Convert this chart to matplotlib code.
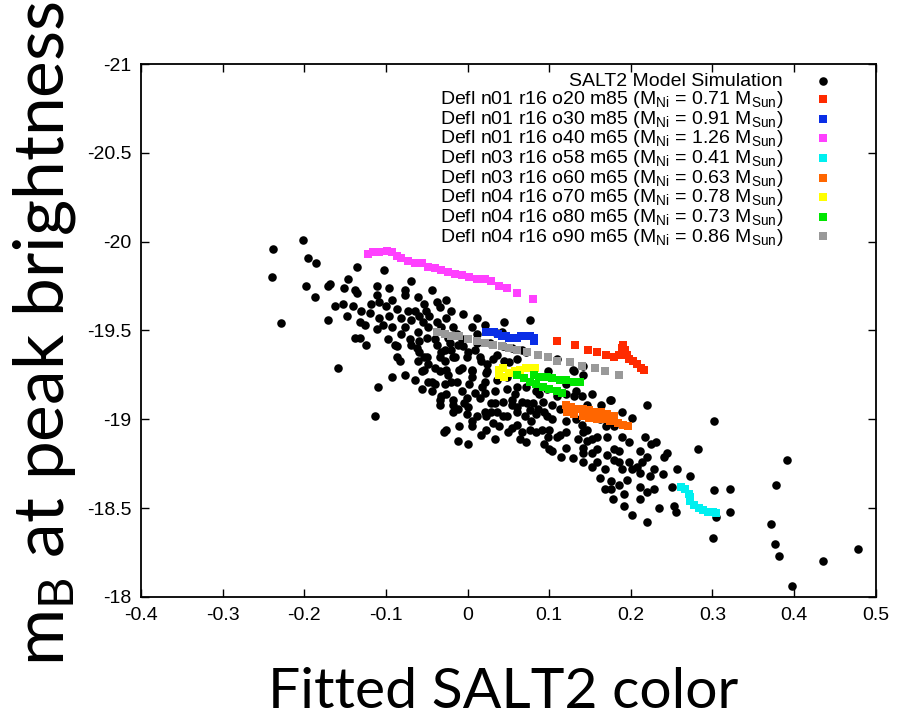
import matplotlib
matplotlib.use('Agg')
import matplotlib.pyplot as plt

plt.rcParams['font.family'] = ['Liberation Sans', 'DejaVu Sans']
plt.rcParams['mathtext.default'] = 'regular'

# SALT2 model simulation (black dots), colour vs peak magnitude
salt2_x = [-0.239, -0.202, -0.196, -0.186, -0.240, -0.198, -0.187, -0.229, -0.171, -0.168,
           -0.152, -0.147, -0.136, -0.138, -0.136, -0.163, -0.153, -0.141, -0.148, -0.171,
           -0.130, -0.132, -0.138, -0.132, -0.125, -0.120, -0.102, -0.111, -0.096, -0.077,
           -0.077, -0.069, -0.111, -0.109, -0.100, -0.093, -0.086, -0.096, -0.104, -0.111,
           -0.108, -0.092, -0.098, -0.081, -0.077, -0.081, -0.071, -0.086, -0.087, -0.083,
           -0.073, -0.061, -0.054, -0.064, -0.069, -0.059, -0.051, -0.047, -0.038, -0.027,
           -0.034, -0.055, -0.049, -0.061, -0.069, -0.059, -0.050, -0.062, -0.059, -0.053,
           -0.061, -0.049, -0.056, -0.065, -0.049, -0.092, -0.159, -0.040, -0.032, -0.018,
           -0.006, 0.006, -0.024, -0.032, -0.020, -0.012, -0.028, -0.016, -0.007, -0.024,
           -0.034, -0.040, -0.020, 0.000, 0.005, 0.017, 0.024, -0.110, -0.114, -0.029,
           0.000, 0.100, 0.115, 0.129, 0.141, -0.018, -0.034, -0.032, -0.004, 0.000,
           0.011, 0.021, 0.029, 0.031, 0.033, 0.043, -0.007, 0.009, 0.021, -0.056,
           0.054, 0.061, 0.073, 0.070, 0.078, 0.086, 0.094, 0.091, 0.084, 0.072,
           0.098, 0.109, 0.103, 0.121, 0.133, 0.140, 0.135, 0.146, 0.153, 0.141,
           0.153, 0.140, 0.131, 0.141, 0.164, 0.176, 0.189, 0.202, 0.180, 0.170,
           0.220, 0.302, 0.171, 0.189, 0.186, 0.198, 0.211, 0.217, 0.225, 0.231,
           0.180, 0.171, 0.180, 0.168, 0.186, 0.198, 0.207, 0.214, 0.220, 0.211,
           0.223, 0.176, 0.186, 0.195, 0.168, 0.176, 0.178, 0.192, 0.211, 0.220,
           0.192, 0.201, 0.220, 0.235, 0.241, 0.244, 0.257, 0.272, 0.250, 0.253,
           0.256, 0.282, 0.302, 0.321, 0.322, 0.305, 0.301, 0.391, 0.378, 0.372,
           0.377, 0.382, 0.398, 0.435, 0.478, 0.189, 0.076, -0.038, -0.022, -0.006,
           0.011, 0.027, 0.043, 0.055, 0.067, -0.050, -0.034, -0.018, -0.001, 0.015,
           0.031, -0.053, -0.040, -0.026, -0.010, 0.006, 0.023, 0.036, 0.048, -0.043,
           -0.028, -0.013, 0.002, 0.018, 0.033, 0.048, 0.060, 0.072, 0.084, 0.097,
           0.109, 0.121, 0.133, 0.153, 0.174, -0.034, -0.018, -0.001, 0.015, 0.029,
           0.043, 0.055, 0.067, 0.080, 0.092, 0.104, 0.113, -0.018, -0.001, 0.023,
           0.036, 0.048, 0.060, 0.084, 0.097, 0.104, -0.026, -0.010, 0.006, 0.023,
           0.039, 0.055, 0.067, 0.100, 0.113, 0.146, 0.158, 0.162, 0.178, 0.141,
           0.129, 0.121, 0.146, 0.121, 0.005, 0.024, 0.021, 0.033, 0.042, 0.109,
           0.131, 0.141, 0.098, 0.061, 0.051, 0.072, -0.038, -0.026, -0.013, 0.012,
           0.021, -0.028, -0.007, 0.009, 0.036, 0.045, -0.044, -0.026, -0.012, 0.005,
           0.017, 0.033, 0.049, 0.060, 0.076, -0.012, 0.064, 0.094, 0.121, 0.158,
           0.159, 0.162, 0.202, 0.211, 0.229, 0.229, 0.239, -0.089, -0.077, -0.126,
           -0.118, -0.044, -0.020, 0.012, 0.045, 0.058, 0.076, 0.088, 0.121, 0.141,
           0.152]
salt2_y = [-19.96, -20.01, -19.91, -19.88, -19.80, -19.75, -19.69, -19.54, -19.75, -19.76,
           -19.74, -19.79, -19.86, -19.73, -19.71, -19.64, -19.65, -19.64, -19.58, -19.56,
           -19.61, -19.55, -19.46, -19.46, -19.42, -19.60, -19.84, -19.75, -19.74, -19.73,
           -19.70, -19.78, -19.70, -19.66, -19.64, -19.67, -19.62, -19.58, -19.53, -19.51,
           -19.57, -19.52, -19.45, -19.57, -19.52, -19.48, -19.45, -19.41, -19.35, -19.33,
           -19.61, -19.69, -19.65, -19.61, -19.56, -19.58, -19.61, -19.58, -19.66, -19.67,
           -19.63, -19.55, -19.52, -19.49, -19.42, -19.44, -19.46, -19.40, -19.38, -19.35,
           -19.33, -19.31, -19.27, -19.22, -19.21, -19.24, -19.29, -19.45, -19.52, -19.52,
           -19.59, -19.52, -19.46, -19.38, -19.39, -19.42, -19.33, -19.35, -19.29, -19.25,
           -19.27, -19.20, -19.21, -19.38, -19.27, -19.33, -19.27, -19.18, -19.02, -18.93,
           -18.86, -18.83, -18.79, -18.78, -18.81, -19.08, -19.08, -19.13, -19.09, -19.07,
           -19.02, -19.04, -19.04, -18.98, -19.09, -19.02, -19.16, -19.15, -19.15, -19.17,
           -19.11, -19.07, -19.09, -19.02, -18.99, -19.06, -19.04, -18.94, -18.93, -18.87,
           -18.90, -18.90, -18.82, -18.99, -19.00, -18.97, -18.89, -18.88, -18.89, -18.84,
           -18.81, -19.13, -19.13, -18.93, -19.08, -19.11, -19.04, -19.01, -18.96, -18.96,
           -19.08, -18.99, -18.90, -18.90, -18.82, -18.87, -18.82, -18.90, -18.86, -18.87,
           -18.83, -18.80, -18.77, -18.72, -18.76, -18.76, -18.73, -18.76, -18.79, -18.70,
           -18.68, -18.65, -18.63, -18.66, -18.61, -18.61, -18.55, -18.58, -18.62, -18.59,
           -18.51, -18.46, -18.42, -18.50, -18.79, -18.81, -18.72, -18.68, -18.62, -18.51,
           -18.48, -18.83, -18.60, -18.61, -18.48, -18.45, -18.33, -18.77, -18.63, -18.41,
           -18.30, -18.23, -18.06, -18.20, -18.27, -18.72, -19.56, -19.42, -19.43, -19.41,
           -19.43, -19.43, -19.41, -19.40, -19.39, -19.35, -19.35, -19.35, -19.35, -19.35,
           -19.34, -19.28, -19.29, -19.28, -19.28, -19.28, -19.26, -19.22, -19.24, -19.21,
           -19.20, -19.21, -19.20, -19.18, -19.16, -19.17, -19.18, -19.18, -19.16, -19.17,
           -19.13, -19.14, -19.16, -19.14, -19.11, -19.11, -19.11, -19.12, -19.12, -19.09,
           -19.10, -19.08, -19.10, -19.09, -19.10, -19.08, -19.06, -19.04, -19.03, -19.02,
           -19.04, -19.02, -19.04, -19.03, -19.02, -19.00, -18.94, -18.96, -18.96, -18.94,
           -18.96, -18.95, -18.93, -18.94, -18.91, -18.94, -18.90, -19.00, -18.98, -19.30,
           -19.28, -19.20, -19.08, -19.07, -19.24, -19.31, -19.21, -19.49, -19.49, -19.34,
           -19.27, -19.25, -19.27, -19.34, -19.32, -19.38, -19.55, -19.57, -19.48, -19.48,
           -19.53, -19.39, -19.45, -19.39, -19.36, -19.33, -19.16, -19.14, -19.06, -18.99,
           -18.91, -18.89, -18.93, -18.97, -19.05, -18.88, -18.89, -18.86, -18.84, -18.83,
           -18.76, -18.67, -18.72, -18.55, -18.72, -18.61, -18.69, -19.42, -19.25, -19.53,
           -19.65, -19.73, -19.61, -19.57, -19.55, -19.14, -18.94, -19.14, -18.93, -18.76,
           -18.73]

# Deflagration models (coloured squares)
o20_x = [0.110, 0.132, 0.147, 0.159, 0.170, 0.179, 0.185, 0.189, 0.191, 0.193,
         0.195, 0.198, 0.203, 0.208, 0.213, 0.216]
o20_y = [-19.44, -19.42, -19.39, -19.38, -19.36, -19.35, -19.36, -19.40, -19.42, -19.39,
         -19.36, -19.34, -19.33, -19.31, -19.29, -19.28]
o30_x = [0.023, 0.027, 0.032, 0.037, 0.042, 0.047, 0.051, 0.056, 0.061, 0.066,
         0.071, 0.076, 0.081, 0.081]
o30_y = [-19.49, -19.49, -19.49, -19.48, -19.47, -19.47, -19.46, -19.46, -19.46, -19.47,
         -19.47, -19.47, -19.46, -19.44]
o40_x = [-0.122, -0.116, -0.108, -0.099, -0.093, -0.087, -0.081, -0.073, -0.065, -0.056,
         -0.049, -0.040, -0.032, -0.024, -0.016, -0.007, 0.002, 0.012, 0.021, 0.029,
         0.039, 0.048, 0.061, 0.080]
o40_y = [-19.93, -19.94, -19.94, -19.95, -19.94, -19.92, -19.91, -19.89, -19.88, -19.88,
         -19.86, -19.85, -19.84, -19.83, -19.82, -19.81, -19.80, -19.79, -19.79, -19.78,
         -19.75, -19.74, -19.71, -19.68]
o58_x = [0.262, 0.267, 0.271, 0.272, 0.273, 0.277, 0.283, 0.289, 0.295, 0.301, 0.305]
o58_y = [-18.62, -18.61, -18.58, -18.56, -18.54, -18.52, -18.50, -18.49, -18.48, -18.48, -18.47]
o60_x = [0.120, 0.127, 0.135, 0.142, 0.149, 0.157, 0.164, 0.171, 0.179, 0.122,
         0.131, 0.141, 0.149, 0.158, 0.167, 0.175, 0.184, 0.191, 0.197]
o60_y = [-19.08, -19.07, -19.06, -19.06, -19.05, -19.04, -19.04, -19.03, -19.02, -19.04,
         -19.03, -19.02, -19.01, -19.00, -19.00, -18.99, -18.98, -18.97, -18.96]
o70_x = [0.039, 0.039, 0.045, 0.051, 0.058, 0.064, 0.071, 0.077, 0.083, 0.044]
o70_y = [-19.28, -19.25, -19.24, -19.26, -19.27, -19.28, -19.29, -19.29, -19.29, -19.29]
o80_x = [0.060, 0.069, 0.076, 0.084, 0.092, 0.100, 0.109, 0.116, 0.088, 0.097,
         0.104, 0.113, 0.121, 0.130, 0.138, 0.082]
o80_y = [-19.25, -19.23, -19.21, -19.20, -19.18, -19.17, -19.16, -19.15, -19.24, -19.24,
         -19.23, -19.22, -19.22, -19.21, -19.21, -19.25]
o90_x = [-0.037, -0.028, -0.020, -0.010, 0.000, 0.011, 0.021, 0.031, 0.042, 0.051,
         0.061, 0.073, 0.086, 0.098, 0.110, 0.126, 0.140, 0.156, 0.168, 0.186]
o90_y = [-19.49, -19.48, -19.47, -19.47, -19.45, -19.44, -19.43, -19.42, -19.41, -19.40,
         -19.39, -19.38, -19.36, -19.35, -19.33, -19.32, -19.30, -19.29, -19.27, -19.25]

models = [
    ('Defl n01 r16 o20 m85 (M$_{Ni}$ = 0.71 M$_{Sun}$)', o20_x, o20_y, '#ff2a00'),
    ('Defl n01 r16 o30 m85 (M$_{Ni}$ = 0.91 M$_{Sun}$)', o30_x, o30_y, '#0a2ee6'),
    ('Defl n01 r16 o40 m65 (M$_{Ni}$ = 1.26 M$_{Sun}$)', o40_x, o40_y, '#ff40ff'),
    ('Defl n03 r16 o58 m65 (M$_{Ni}$ = 0.41 M$_{Sun}$)', o58_x, o58_y, '#00f0f0'),
    ('Defl n03 r16 o60 m65 (M$_{Ni}$ = 0.63 M$_{Sun}$)', o60_x, o60_y, '#ff6600'),
    ('Defl n04 r16 o70 m65 (M$_{Ni}$ = 0.78 M$_{Sun}$)', o70_x, o70_y, '#ffff00'),
    ('Defl n04 r16 o80 m65 (M$_{Ni}$ = 0.73 M$_{Sun}$)', o80_x, o80_y, '#00e600'),
    ('Defl n04 r16 o90 m65 (M$_{Ni}$ = 0.86 M$_{Sun}$)', o90_x, o90_y, '#999999'),
]

xticks = [-0.4, -0.3, -0.2, -0.1, 0, 0.1, 0.2, 0.3, 0.4, 0.5]
xticklabels = ['-0.4', '-0.3', '-0.2', '-0.1', '0', '0.1', '0.2', '0.3', '0.4', '0.5']
yticks = [-21, -20.5, -20, -19.5, -19, -18.5, -18]
yticklabels = ['-21', '-20.5', '-20', '-19.5', '-19', '-18.5', '-18']

fig = plt.figure(figsize=(8.99, 7.2), dpi=100)
ax = fig.add_axes([0.157, 0.171, 0.817, 0.740])

ax.scatter(salt2_x, salt2_y, s=38, c='black', marker='o', linewidths=0,
           label='SALT2 Model Simulation', zorder=2)
for label, xs, ys, col in models:
    ax.scatter(xs, ys, s=28, c=col, marker='s', linewidths=0, label=label, zorder=3)

ax.set_xlim(-0.4, 0.5)
ax.set_ylim(-18, -21)
ax.set_xticks(xticks)
ax.set_xticklabels(xticklabels)
ax.set_yticks(yticks)
ax.set_yticklabels(yticklabels)
ax.tick_params(direction='in', top=True, right=True, length=6, width=1,
               labelsize=14, pad=7)
for sp in ax.spines.values():
    sp.set_linewidth(1.3)

leg = ax.legend(loc='upper right', bbox_to_anchor=(0.95, 0.997), borderaxespad=0,
                markerfirst=False, frameon=False, fontsize=14, labelspacing=-0.07,
                handlelength=0.93, handletextpad=1.58, borderpad=0.37, scatterpoints=1)

fig.text(0.050, 0.537, 'm$_B$ at peak brightness', rotation=90, ha='center', va='center',
         fontsize=50, family=['Lato', 'DejaVu Sans'])
fig.text(0.560, 0.017, 'Fitted SALT2 color', ha='center', va='baseline',
         fontsize=41, family=['Lato', 'DejaVu Sans'])

fig.savefig('out.png', dpi=100)
